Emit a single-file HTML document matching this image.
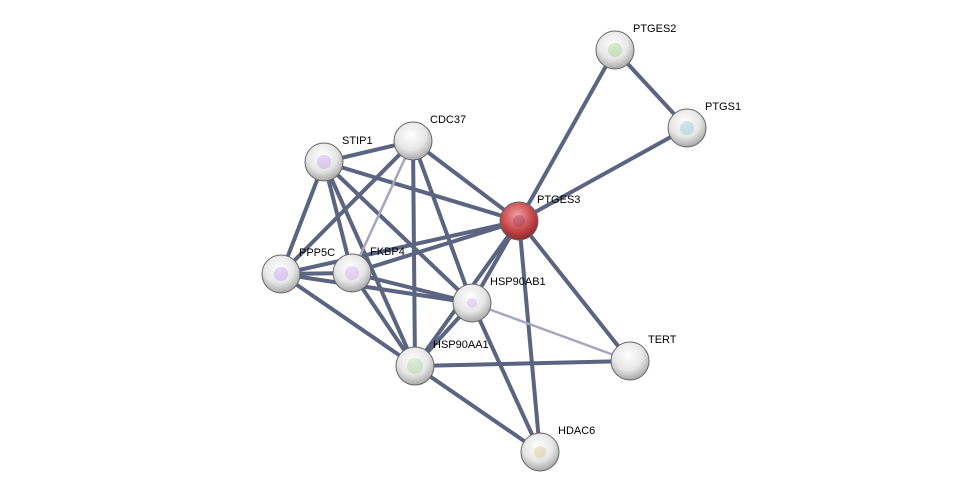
<!DOCTYPE html>
<html><head><style>body{margin:0;background:#fff}svg{display:block}text{font-family:"Liberation Sans",sans-serif;font-size:11px;fill:#000}</style></head>
<body>
<svg width="975" height="497" viewBox="0 0 975 497">
<defs>
<radialGradient id="w" cx="0.45" cy="0.35" r="0.65"><stop offset="0" stop-color="#fff"/><stop offset="0.6" stop-color="#e6e6e6"/><stop offset="1" stop-color="#a8a8a8"/></radialGradient>
<radialGradient id="r" cx="0.45" cy="0.35" r="0.65"><stop offset="0" stop-color="#f2a0a0"/><stop offset="0.6" stop-color="#c94a4e"/><stop offset="1" stop-color="#8a2a2e"/></radialGradient>
</defs>
<g stroke="#5b6480" stroke-width="4" stroke-linecap="round">
<line x1="615" y1="50" x2="687" y2="128"/>
<line x1="615" y1="50" x2="519" y2="221"/>
<line x1="687" y1="128" x2="519" y2="221"/>
<line x1="519" y1="221" x2="324" y2="162"/>
<line x1="519" y1="221" x2="413" y2="141"/>
<line x1="519" y1="221" x2="281" y2="274"/>
<line x1="519" y1="221" x2="352" y2="273"/>
<line x1="519" y1="221" x2="472" y2="303"/>
<line x1="519" y1="221" x2="415" y2="366"/>
<line x1="519" y1="221" x2="540" y2="452"/>
<line x1="519" y1="221" x2="630" y2="361"/>
<line x1="324" y1="162" x2="413" y2="141"/>
<line x1="324" y1="162" x2="281" y2="274"/>
<line x1="324" y1="162" x2="352" y2="273"/>
<line x1="324" y1="162" x2="472" y2="303"/>
<line x1="324" y1="162" x2="415" y2="366"/>
<line x1="413" y1="141" x2="281" y2="274"/>
<line x1="413" y1="141" x2="472" y2="303"/>
<line x1="413" y1="141" x2="415" y2="366"/>
<line x1="281" y1="274" x2="352" y2="273"/>
<line x1="281" y1="274" x2="472" y2="303"/>
<line x1="281" y1="274" x2="415" y2="366"/>
<line x1="352" y1="273" x2="472" y2="303"/>
<line x1="352" y1="273" x2="415" y2="366"/>
<line x1="472" y1="303" x2="415" y2="366"/>
<line x1="472" y1="303" x2="540" y2="452"/>
<line x1="415" y1="366" x2="630" y2="361"/>
<line x1="415" y1="366" x2="540" y2="452"/>
</g>
<g stroke="#a6a6be" stroke-width="2.5">
<line x1="413" y1="141" x2="352" y2="273"/>
<line x1="472" y1="303" x2="630" y2="361"/>
</g>
<g stroke="#666" stroke-width="1">
<circle cx="615" cy="50" r="19" fill="url(#w)"/>
<circle cx="687" cy="128" r="19" fill="url(#w)"/>
<circle cx="413" cy="141" r="19" fill="url(#w)"/>
<circle cx="324" cy="162" r="19" fill="url(#w)"/>
<circle cx="281" cy="274" r="19" fill="url(#w)"/>
<circle cx="352" cy="273" r="19" fill="url(#w)"/>
<circle cx="472" cy="303" r="19" fill="url(#w)"/>
<circle cx="630" cy="361" r="19" fill="url(#w)"/>
<circle cx="415" cy="366" r="19" fill="url(#w)"/>
<circle cx="540" cy="452" r="19" fill="url(#w)"/>
<circle cx="519" cy="221" r="19" fill="url(#r)"/>
</g>
<g fill-opacity="0.35">
<circle cx="615" cy="50" r="7" fill="#8c6"/>
<circle cx="687" cy="128" r="7" fill="#7bc"/>
<circle cx="324" cy="162" r="7" fill="#b8e"/>
<circle cx="281" cy="274" r="7" fill="#b8e"/>
<circle cx="352" cy="273" r="7" fill="#c9e"/>
<circle cx="472" cy="303" r="5" fill="#c9e"/>
<circle cx="415" cy="366" r="8" fill="#9c8"/>
<circle cx="540" cy="452" r="6" fill="#cb7"/>
<circle cx="519" cy="221" r="6" fill="#903060"/>
</g>
<text x="633" y="32">PTGES2</text>
<text x="705" y="110">PTGS1</text>
<text x="430" y="123">CDC37</text>
<text x="342" y="144">STIP1</text>
<text x="537" y="203">PTGES3</text>
<text x="299" y="256">PPP5C</text>
<text x="370" y="255">FKBP4</text>
<text x="490" y="285">HSP90AB1</text>
<text x="648" y="343">TERT</text>
<text x="433" y="348">HSP90AA1</text>
<text x="558" y="434">HDAC6</text>
</svg>
</body></html>
